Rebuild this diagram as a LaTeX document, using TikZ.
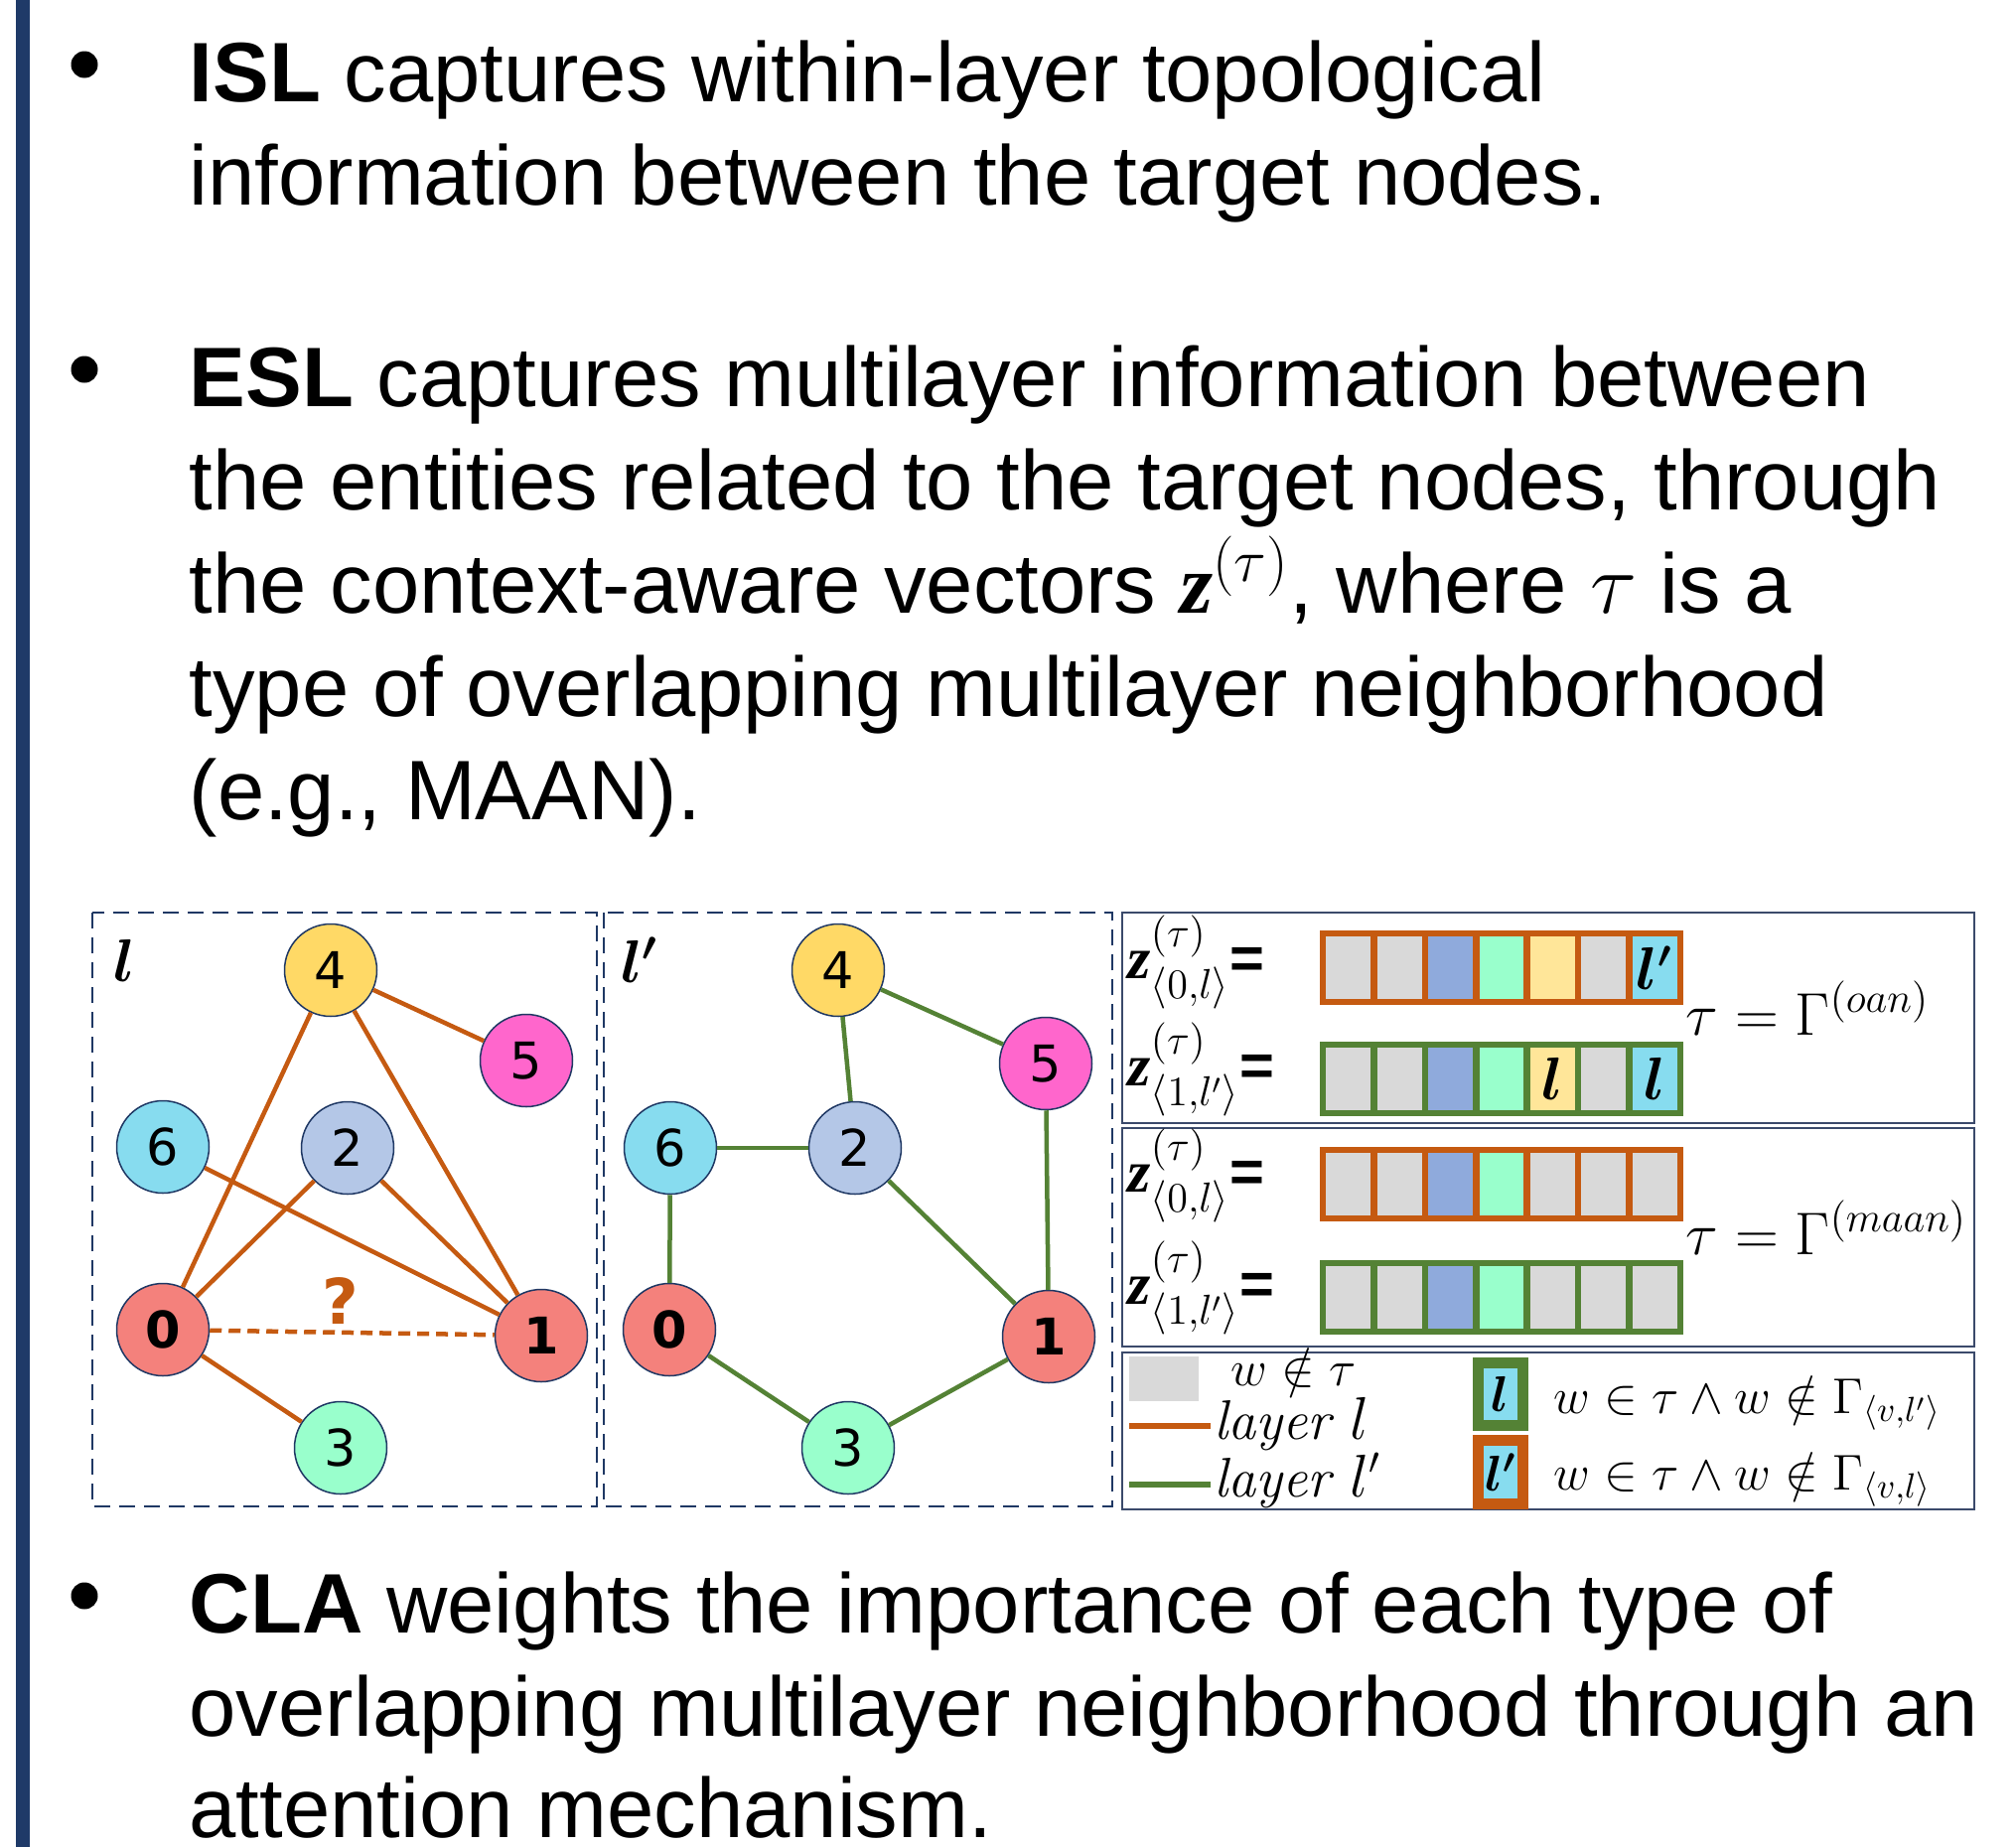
\documentclass[tikz,border=0pt]{standalone}
\usepackage{amsmath}
\usepackage{bm}
\usepackage{fontspec}
\setmainfont{Liberation Sans}
\newfontfamily\numfont{DejaVu Sans}
\newfontfamily\serifbi{Liberation Serif}[BoldItalicFont={* Bold Italic}]
\newfontfamily\lmroman{Latin Modern Roman}
\usetikzlibrary{shapes.geometric}
\definecolor{navy}{HTML}{1F3864}
\definecolor{barblue}{HTML}{1F3A68}
\definecolor{lorange}{HTML}{C55A11}
\definecolor{lgreen}{HTML}{548235}
\definecolor{nred}{HTML}{F4817C}
\definecolor{nyellow}{HTML}{FFD966}
\definecolor{npink}{HTML}{FF66CC}
\definecolor{ncyan}{HTML}{87DCEF}
\definecolor{nlav}{HTML}{B4C7E7}
\definecolor{nmint}{HTML}{99FFCC}
\definecolor{cgray}{HTML}{D9D9D9}
\definecolor{cblue}{HTML}{8FAADC}
\definecolor{cyel}{HTML}{FFE699}
\definecolor{boxline}{HTML}{3B4A6B}
\newcommand{\zbold}{\mbox{\serifbi\bfseries\itshape z}}
\begin{document}
\begin{tikzpicture}[x=0.1mm,y=-0.1mm,
  bodytext/.style={anchor=base west,inner sep=0pt,font=\fontsize{24.2pt}{29pt}\selectfont},
  bulletdot/.style={circle,fill=black,inner sep=0pt,minimum size=2.7mm},
  gnode/.style={circle,draw=navy,line width=0.15mm,minimum size=9.3mm,inner sep=0pt,font=\numfont\fontsize{14.5pt}{15pt}\selectfont},
  ledge/.style={lorange,line width=0.45mm},
  gedge/.style={lgreen,line width=0.45mm},
  dbox/.style={navy,line width=0.27mm,dash pattern=on 1.6mm off 0.9mm},
  sbox/.style={draw=boxline,line width=0.15mm},
  mathlbl/.style={anchor=base west,inner sep=0pt,font=\fontsize{17pt}{20pt}\selectfont},
  celllbl/.style={inner sep=0pt,font=\fontsize{16pt}{18pt}\selectfont},
  leglbl/.style={anchor=base west,inner sep=0pt,font=\fontsize{14pt}{17pt}\selectfont},
  layertxt/.style={anchor=base west,inner sep=0pt,font=\lmroman\itshape\fontsize{16pt}{18pt}\selectfont},
  layerlbl/.style={inner sep=0pt,font=\fontsize{17pt}{20pt}\selectfont},
  legsq/.style={line width=1.1mm,fill=ncyan,minimum width=4.5mm,inner sep=0pt,font=\fontsize{14pt}{17pt}\selectfont},
]
\useasboundingbox (0,0) rectangle (2030,1860);
\fill[white] (0,0) rectangle (2030,1860);
\fill[barblue] (16,0) rectangle (30,1860);

% bullets
\node[bulletdot] (bul1) at (85,65) {};
\node[bulletdot] (bul2) at (85,372) {};
\node[bulletdot] (bul3) at (85,1607) {};

% text
\node[bodytext] (t11) at (190,102) {\textbf{ISL} captures within-layer topological};
\node[bodytext] (t12) at (190,206) {information between the target nodes.};
\node[bodytext] (t21) at (190,409) {\textbf{ESL} captures multilayer information between};
\node[bodytext] (t22) at (190,513) {the entities related to the target nodes, through};
\node[bodytext] (t23) at (190,617) {the context-aware vectors $\zbold^{(\tau)}$, where $\tau$ is a};
\node[bodytext] (t24) at (190,721) {type of overlapping multilayer neighborhood};
\node[bodytext] (t25) at (190,825) {(e.g., MAAN).};
\node[bodytext] (t31) at (190,1644) {\textbf{CLA} weights the importance of each type of};
\node[bodytext] (t32) at (190,1748) {overlapping multilayer neighborhood through an};
\node[bodytext] (t33) at (190,1850) {attention mechanism.};

% layer l
\draw[dbox] (93,919) rectangle (601,1517);
\node[layerlbl] (labl) at (125,967) {$\bm{l}$};
\node[gnode,fill=nyellow] (a4) at (333,977) {4};
\node[gnode,fill=npink] (a5) at (530,1068) {5};
\node[gnode,fill=ncyan] (a6) at (164,1155) {6};
\node[gnode,fill=nlav] (a2) at (350,1156) {2};
\node[gnode,fill=nred] (a0) at (164,1339) {\bfseries 0};
\node[gnode,fill=nred] (a1) at (545,1345) {\bfseries 1};
\node[gnode,fill=nmint] (a3) at (343,1458) {3};
\draw[ledge] (a4) -- (a5);
\draw[ledge] (a4) -- (a0);
\draw[ledge] (a4) -- (a1);
\draw[ledge] (a2) -- (a0);
\draw[ledge] (a2) -- (a1);
\draw[ledge] (a6) -- (a1);
\draw[ledge] (a0) -- (a3);
\draw[ledge,dash pattern=on 1.2mm off 0.7mm] (a0) -- (a1);
\node[text=lorange,inner sep=0pt,font=\numfont\bfseries\fontsize{18pt}{18pt}\selectfont] (qm) at (343,1310) {?};

% layer l'
\draw[dbox] (608,919) rectangle (1120,1517);
\node[layerlbl] (lablp) at (644,967) {$\bm{l'}$};
\node[gnode,fill=nyellow] (p4) at (844,977) {4};
\node[gnode,fill=npink] (p5) at (1053,1071) {5};
\node[gnode,fill=ncyan] (p6) at (675,1156) {6};
\node[gnode,fill=nlav] (p2) at (861,1156) {2};
\node[gnode,fill=nred] (p0) at (674,1339) {\bfseries 0};
\node[gnode,fill=nred] (p1) at (1056,1346) {\bfseries 1};
\node[gnode,fill=nmint] (p3) at (854,1458) {3};
\draw[gedge] (p4) -- (p5);
\draw[gedge] (p4) -- (p2);
\draw[gedge] (p6) -- (p2);
\draw[gedge] (p6) -- (p0);
\draw[gedge] (p2) -- (p1);
\draw[gedge] (p5) -- (p1);
\draw[gedge] (p0) -- (p3);
\draw[gedge] (p3) -- (p1);

% right panel boxes
\draw[sbox] (1130,919) rectangle (1988,1131);
\draw[sbox] (1130,1136) rectangle (1988,1356);
\draw[sbox] (1130,1362) rectangle (1988,1520);

% cell rows
\foreach \ry/\bc/\cols in {940/lorange/{cgray,cgray,cblue,nmint,cyel,cgray,ncyan},
                            1052/lgreen/{cgray,cgray,cblue,nmint,cyel,cgray,ncyan},
                            1158/lorange/{cgray,cgray,cblue,nmint,cgray,cgray,cgray},
                            1272/lgreen/{cgray,cgray,cblue,nmint,cgray,cgray,cgray}} {
  \foreach \c [count=\i from 0] in \cols {
    \fill[\c] ({1332+\i*51.43},\ry) rectangle ++(51.43,69);
  }
  \foreach \i in {1,...,6} {
    \draw[\bc,line width=0.65mm] ({1332+\i*51.43},\ry) -- ++(0,69);
  }
  \draw[\bc,line width=0.65mm] (1332,\ry) rectangle ++(360,69);
}
\node[celllbl] (c17) at (1666,974.5) {$\bm{l'}$};
\node[celllbl] (c25) at (1563,1086.5) {$\bm{l}$};
\node[celllbl] (c27) at (1666,1086.5) {$\bm{l}$};

% z labels
\node[mathlbl] (z1) at (1135,985) {$\zbold^{(\tau)}_{\langle 0,l\rangle}$\textbf{=}};
\node[mathlbl] (z2) at (1135,1093) {$\zbold^{(\tau)}_{\langle 1,l'\rangle}$\textbf{=}};
\node[mathlbl] (z3) at (1135,1200) {$\zbold^{(\tau)}_{\langle 0,l\rangle}$\textbf{=}};
\node[mathlbl] (z4) at (1135,1313) {$\zbold^{(\tau)}_{\langle 1,l'\rangle}$\textbf{=}};
\node[mathlbl] (g1) at (1697,1042) {$\tau=\Gamma^{(oan)}$};
\node[mathlbl] (g2) at (1697,1263) {$\tau=\Gamma^{(maan)}$};

% legend
\fill[cgray] (1137,1366) rectangle (1207,1411);
\node[leglbl] (lg0) at (1239,1395) {$w\notin\tau$};
\coordinate (lo1) at (1137,1436);
\coordinate (lo2) at (1219,1436);
\draw[lorange,line width=0.55mm] (lo1) -- (lo2);
\node[layertxt] (lgl) at (1222,1449) {layer $l$};
\coordinate (lgr1) at (1137,1495);
\coordinate (lgr2) at (1219,1495);
\draw[lgreen,line width=0.55mm] (lgr1) -- (lgr2);
\node[layertxt] (lglp) at (1222,1507) {layer $l'$};
\node[legsq,draw=lgreen,minimum height=6.3mm] (sq1) at (1511,1404) {$\bm{l}$};
\node[legsq,draw=lorange,minimum height=6.4mm] (sq2) at (1511,1482.5) {$\bm{l'}$};
\node[leglbl] (lt1) at (1564,1423) {$w\in\tau\wedge w\notin\Gamma_{\langle v,l'\rangle}$};
\node[leglbl] (lt2) at (1564,1500) {$w\in\tau\wedge w\notin\Gamma_{\langle v,l\rangle}$};
\end{tikzpicture}
\end{document}
